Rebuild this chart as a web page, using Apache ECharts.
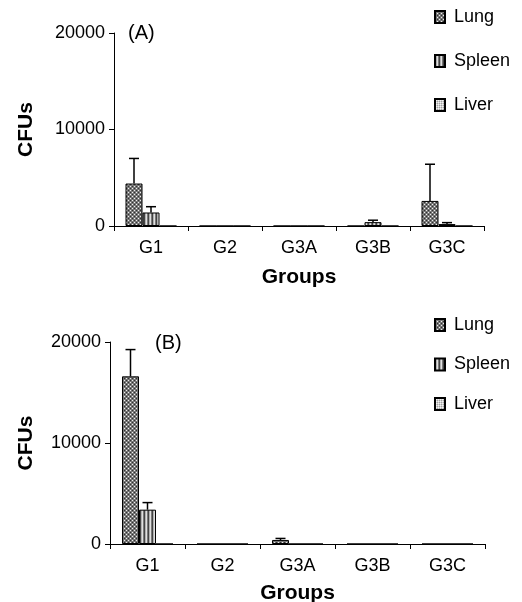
<!DOCTYPE html>
<html>
<head>
<meta charset="utf-8">
<script src="https://cdn.jsdelivr.net/npm/echarts@6/dist/echarts.min.js"></script>
<style>
  html, body { margin: 0; padding: 0; background: #fff; }
  #chart { width: 522px; height: 602px; }
</style>
</head>
<body>
<div id="chart"></div>
<script>
// categories
var groups = ['G1', 'G2', 'G3A', 'G3B', 'G3C'];
var organs = ['Lung', 'Spleen', 'Liver'];
var yTicks = [0, 10000, 20000];

// panel (A) means and error (upper SD)
var lungA = [4400, 0, 0, 0, 2600];
var lungErrA = [2600, 0, 0, 0, 3800];
var spleenA = [1400, 0, 0, 400, 200];
var spleenErrA = [600, 0, 0, 200, 150];
var liverA = [0, 0, 0, 0, 0];
var liverErrA = [0, 0, 0, 0, 0];

// panel (B)
var lungB = [16600, 0, 400, 0, 0];
var lungErrB = [2650, 0, 150, 0, 0];
var spleenB = [3400, 0, 0, 0, 0];
var spleenErrB = [700, 0, 0, 0, 0];
var liverB = [0, 0, 0, 0, 0];
var liverErrB = [0, 0, 0, 0, 0];

// fill patterns for the bars
function makePattern(w, h, bg, pixels) {
    var c = document.createElement('canvas');
    c.width = w; c.height = h;
    var ctx = c.getContext('2d');
    ctx.fillStyle = bg;
    ctx.fillRect(0, 0, w, h);
    pixels.forEach(function (p) {
        ctx.fillStyle = p[2];
        ctx.fillRect(p[0], p[1], p[3] || 1, p[4] || 1);
    });
    return { image: c, repeat: 'repeat' };
}
var lungFill = makePattern(4, 4, '#777777', [
    [0, 0, '#eeeeee'], [2, 2, '#eeeeee'], [2, 0, '#303030'], [0, 2, '#303030']
]);
var spleenFill = makePattern(4, 4, '#999', [
    [0, 0, '#444444', 1, 4], [1, 0, '#b0b0b0', 1, 4], [2, 0, '#e0e0e0', 1, 4], [3, 0, '#7a7a7a', 1, 4]
]);
var liverFill = makePattern(2, 2, '#d0d0d0', [
    [0, 0, '#a0a0a0'], [1, 1, '#f2f2f2']
]);
var fills = [lungFill, spleenFill, liverFill];

var chart = echarts.init(document.getElementById('chart'));

var font = 'Liberation Sans, Arial, sans-serif';
var barW = 17;

function xAxisFor(gridIndex) {
    return {
        type: 'category',
        gridIndex: gridIndex,
        data: groups,
        name: 'Groups',
        nameLocation: 'middle',
        nameGap: gridIndex === 0 ? 41 : 39,
        nameMoveOverlap: false,
        nameTextStyle: { fontFamily: font, fontSize: 21, fontWeight: 'bold', color: '#000' },
        axisLine: { lineStyle: { color: '#000', width: 1 } },
        axisTick: { show: true, length: 5, lineStyle: { color: '#000' } },
        axisLabel: { fontFamily: font, fontSize: 18, color: '#000', margin: 13 },
        splitLine: { show: false }
    };
}
function yAxisFor(gridIndex) {
    return {
        type: 'value',
        gridIndex: gridIndex,
        min: yTicks[0],
        max: yTicks[yTicks.length - 1],
        interval: yTicks[1] - yTicks[0],
        name: 'CFUs',
        nameLocation: 'middle',
        nameRotate: 90,
        nameGap: gridIndex === 0 ? 77 : 73,
        nameMoveOverlap: false,
        nameTextStyle: { fontFamily: font, fontSize: 21, fontWeight: 'bold', color: '#000' },
        axisLine: { show: true, lineStyle: { color: '#000', width: 1 } },
        axisTick: { show: true, length: 5, lineStyle: { color: '#000' } },
        axisLabel: { fontFamily: font, fontSize: 18, color: '#000', margin: 9,
                     formatter: function (v) { return String(v); } },
        splitLine: { show: false }
    };
}

function barSeries(name, values, k, gridIndex) {
    return {
        name: name,
        type: 'bar',
        xAxisIndex: gridIndex,
        yAxisIndex: gridIndex,
        data: values,
        barGap: '0%',
        barWidth: barW,
        itemStyle: { color: fills[k], borderColor: '#000', borderWidth: 1 },
        z: 2
    };
}

function errSeries(values, errs, k, gridIndex) {
    var data = [];
    values.forEach(function (v, i) {
        if (errs[i] > 0) data.push([i, v, v + errs[i]]);
    });
    return {
        type: 'custom',
        name: 'err' + gridIndex + k,
        xAxisIndex: gridIndex,
        yAxisIndex: gridIndex,
        data: data,
        z: 1,
        renderItem: function (params, api) {
            var base = api.coord([api.value(0), api.value(1)]);
            var top = api.coord([api.value(0), api.value(2)]);
            var x = base[0] + (k - 1) * barW;
            var cap = 5;
            return {
                type: 'group',
                children: [
                    { type: 'line', shape: { x1: x, y1: base[1], x2: x, y2: top[1] },
                      style: { stroke: '#000', lineWidth: 1.5 } },
                    { type: 'line', shape: { x1: x - cap, y1: top[1], x2: x + cap, y2: top[1] },
                      style: { stroke: '#000', lineWidth: 1.5 } }
                ]
            };
        }
    };
}

function legendFor(top, gap) {
    return {
        orient: 'vertical',
        left: 434,
        top: top,
        padding: 0,
        itemGap: gap,
        itemWidth: 10,
        itemHeight: 12,
        icon: 'rect',
        selectedMode: false,
        data: organs,
        textStyle: { fontFamily: font, fontSize: 18, color: '#000', lineHeight: 18, padding: [0, 0, 0, 4] }
    };
}

var option = {
    animation: false,
    backgroundColor: '#fff',
    title: [
        { text: '(A)', left: 128, top: 23, padding: 0,
          textStyle: { fontFamily: font, fontSize: 20, fontWeight: 'normal', color: '#000' } },
        { text: '(B)', left: 155, top: 333, padding: 0,
          textStyle: { fontFamily: font, fontSize: 20, fontWeight: 'normal', color: '#000' } }
    ],
    legend: [legendFor(8, 26), legendFor(316, 21.5)],
    grid: [
        { left: 114, top: 33, width: 370, height: 193, outerBoundsMode: 'none' },
        { left: 110, top: 342, width: 375, height: 202, outerBoundsMode: 'none' }
    ],
    xAxis: [xAxisFor(0), xAxisFor(1)],
    yAxis: [yAxisFor(0), yAxisFor(1)],
    series: [
        barSeries('Lung', lungA, 0, 0),
        barSeries('Spleen', spleenA, 1, 0),
        barSeries('Liver', liverA, 2, 0),
        errSeries(lungA, lungErrA, 0, 0),
        errSeries(spleenA, spleenErrA, 1, 0),
        errSeries(liverA, liverErrA, 2, 0),
        barSeries('Lung', lungB, 0, 1),
        barSeries('Spleen', spleenB, 1, 1),
        barSeries('Liver', liverB, 2, 1),
        errSeries(lungB, lungErrB, 0, 1),
        errSeries(spleenB, spleenErrB, 1, 1),
        errSeries(liverB, liverErrB, 2, 1)
    ]
};
chart.setOption(option);
</script>
</body>
</html>
